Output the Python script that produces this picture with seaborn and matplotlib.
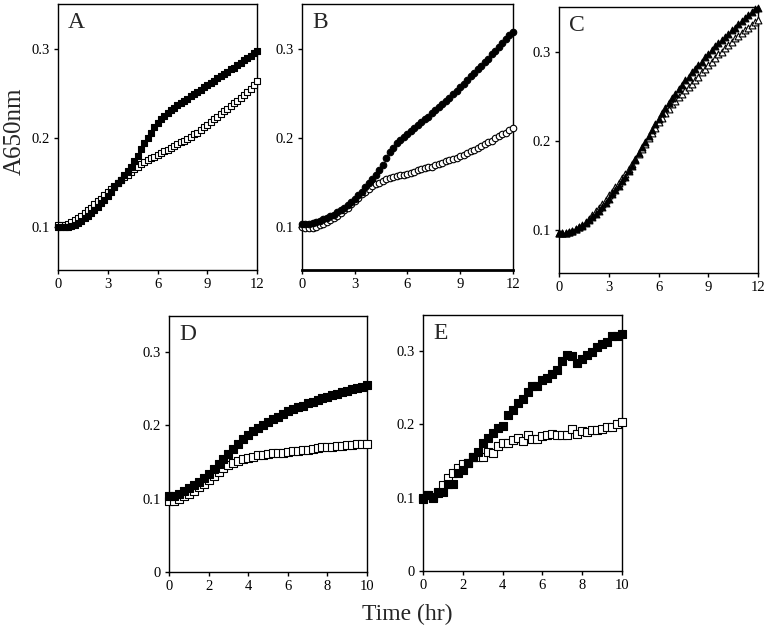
import numpy as np
import pandas as pd
import seaborn as sns
import matplotlib.pyplot as plt

# time grids (hr)
t12 = np.round(np.arange(0, 12.01, 0.2), 2)
t10 = np.round(np.arange(0, 10.01, 0.25), 2)

# panel A (squares)
a_filled = [0.100, 0.100, 0.100, 0.100, 0.101, 0.103, 0.105, 0.107, 0.110, 0.113, 0.116,
            0.119, 0.123, 0.127, 0.131, 0.135, 0.140, 0.145, 0.149, 0.153, 0.158,
            0.163, 0.168, 0.174, 0.180, 0.188, 0.194, 0.200, 0.206, 0.212, 0.217,
            0.221, 0.225, 0.228, 0.231, 0.234, 0.237, 0.239, 0.242, 0.244, 0.247,
            0.249, 0.252, 0.254, 0.257, 0.259, 0.262, 0.264, 0.267, 0.269, 0.272,
            0.274, 0.277, 0.279, 0.282, 0.284, 0.287, 0.290, 0.292, 0.295, 0.298]
a_open = [0.103, 0.103, 0.103, 0.104, 0.106, 0.108, 0.110, 0.113, 0.116, 0.119, 0.122,
          0.126, 0.129, 0.132, 0.136, 0.139, 0.143, 0.146, 0.150, 0.153, 0.156,
          0.159, 0.162, 0.165, 0.168, 0.171, 0.173, 0.175, 0.177, 0.179, 0.181,
          0.183, 0.185, 0.187, 0.189, 0.191, 0.193, 0.195, 0.197, 0.199, 0.201,
          0.204, 0.206, 0.209, 0.212, 0.215, 0.218, 0.221, 0.224, 0.227, 0.230,
          0.233, 0.236, 0.239, 0.242, 0.245, 0.248, 0.251, 0.255, 0.259, 0.264]

# panel B (circles)
b_filled = [0.104, 0.104, 0.104, 0.105, 0.106, 0.107, 0.109, 0.110, 0.112, 0.114, 0.117,
            0.119, 0.122, 0.125, 0.128, 0.132, 0.136, 0.140, 0.145, 0.149, 0.154,
            0.159, 0.164, 0.170, 0.177, 0.184, 0.189, 0.194, 0.198, 0.201, 0.204,
            0.208, 0.211, 0.215, 0.218, 0.221, 0.224, 0.228, 0.231, 0.235, 0.238,
            0.242, 0.245, 0.249, 0.253, 0.257, 0.261, 0.265, 0.269, 0.273, 0.277,
            0.281, 0.285, 0.289, 0.294, 0.298, 0.302, 0.306, 0.311, 0.315, 0.319]
b_open = [0.100, 0.099, 0.099, 0.099, 0.100, 0.102, 0.104, 0.106, 0.108, 0.110, 0.113,
          0.116, 0.119, 0.122, 0.126, 0.129, 0.133, 0.137, 0.140, 0.143, 0.146,
          0.148, 0.150, 0.152, 0.154, 0.155, 0.156, 0.157, 0.158, 0.159, 0.160,
          0.161, 0.162, 0.164, 0.165, 0.166, 0.167, 0.168, 0.170, 0.171, 0.172,
          0.174, 0.175, 0.176, 0.178, 0.180, 0.181, 0.183, 0.185, 0.187, 0.189,
          0.191, 0.193, 0.195, 0.197, 0.200, 0.202, 0.204, 0.206, 0.209, 0.211]

# panel C (triangles)
c_filled = [0.097, 0.097, 0.097, 0.098, 0.099, 0.101, 0.103, 0.105, 0.108, 0.111, 0.115,
            0.118, 0.122, 0.126, 0.130, 0.135, 0.140, 0.145, 0.150, 0.155, 0.160,
            0.166, 0.172, 0.179, 0.186, 0.193, 0.199, 0.206, 0.212, 0.219, 0.225,
            0.231, 0.237, 0.242, 0.248, 0.253, 0.258, 0.263, 0.268, 0.272, 0.277,
            0.281, 0.285, 0.289, 0.294, 0.298, 0.302, 0.306, 0.310, 0.313, 0.317,
            0.320, 0.324, 0.327, 0.331, 0.334, 0.338, 0.341, 0.345, 0.348, 0.349]
c_open = [0.097, 0.097, 0.097, 0.098, 0.099, 0.101, 0.103, 0.106, 0.109, 0.113, 0.117,
          0.121, 0.125, 0.129, 0.134, 0.139, 0.143, 0.148, 0.153, 0.158, 0.163,
          0.169, 0.174, 0.180, 0.185, 0.191, 0.197, 0.203, 0.209, 0.215, 0.221,
          0.226, 0.231, 0.236, 0.241, 0.245, 0.249, 0.253, 0.257, 0.261, 0.264,
          0.268, 0.272, 0.277, 0.281, 0.285, 0.289, 0.293, 0.297, 0.300, 0.304,
          0.308, 0.311, 0.315, 0.318, 0.321, 0.324, 0.327, 0.330, 0.333, 0.336]

# panel D (squares, 0-10 hr)
d_filled = [0.104, 0.104, 0.106, 0.110, 0.114, 0.118, 0.123, 0.128, 0.134, 0.141, 0.148,
            0.154, 0.161, 0.168, 0.175, 0.181, 0.187, 0.192, 0.197, 0.201, 0.205,
            0.209, 0.212, 0.216, 0.219, 0.222, 0.225, 0.227, 0.230, 0.232, 0.235,
            0.237, 0.239, 0.241, 0.243, 0.245, 0.247, 0.249, 0.251, 0.253, 0.255]
d_open = [0.0965, 0.097, 0.099, 0.103, 0.107, 0.111, 0.116, 0.120, 0.125, 0.131, 0.137,
          0.142, 0.146, 0.149, 0.152, 0.154, 0.156, 0.157, 0.159, 0.160, 0.161,
          0.162, 0.162, 0.163, 0.164, 0.165, 0.165, 0.166, 0.167, 0.168, 0.169,
          0.170, 0.171, 0.171, 0.172, 0.172, 0.173, 0.173, 0.174, 0.174, 0.175]

# panel E (squares, 0-10 hr)
e_filled = [0.098, 0.104, 0.099, 0.106, 0.108, 0.118, 0.118, 0.134, 0.138, 0.148, 0.156,
            0.163, 0.174, 0.181, 0.188, 0.195, 0.198, 0.213, 0.220, 0.229, 0.235,
            0.244, 0.252, 0.253, 0.261, 0.263, 0.269, 0.274, 0.286, 0.295, 0.293,
            0.284, 0.289, 0.295, 0.299, 0.305, 0.310, 0.312, 0.321, 0.320, 0.323]
e_open = [0.100, 0.104, 0.101, 0.108, 0.117, 0.127, 0.134, 0.141, 0.146, 0.148, 0.156,
          0.155, 0.156, 0.162, 0.161, 0.170, 0.174, 0.175, 0.179, 0.182, 0.178,
          0.185, 0.180, 0.180, 0.184, 0.185, 0.187, 0.186, 0.186, 0.185, 0.194,
          0.187, 0.191, 0.190, 0.192, 0.193, 0.194, 0.196, 0.197, 0.200, 0.203]

sns.set_style("ticks")
plt.rcParams['font.family'] = ['Liberation Serif', 'DejaVu Serif']

fig = plt.figure(figsize=(7.69, 6.3), dpi=100)

def panel(rect, t, filled, opened, marker, ms, letter, xticks, yticks, ylim, ylabels):
    ax = fig.add_axes(rect)
    df = pd.DataFrame({'t': t, 'f': filled, 'o': opened})
    sns.scatterplot(data=df, x='t', y='o', marker=marker, s=ms, color='white',
                    edgecolor='black', linewidth=0.8, ax=ax, zorder=3, clip_on=False)
    sns.scatterplot(data=df, x='t', y='f', marker=marker, s=ms, color='black',
                    edgecolor='black', linewidth=0.8, ax=ax, zorder=4, clip_on=False)
    ax.set_xlim(xticks[0], xticks[-1])
    ax.set_ylim(*ylim)
    ax.set_xticks(xticks)
    ax.set_yticks(yticks)
    ax.set_yticklabels(ylabels)
    ax.set_xlabel('')
    ax.set_ylabel('')
    for sp in ax.spines.values():
        sp.set_visible(True)
        sp.set_color('black')
        sp.set_linewidth(1.0)
    ax.tick_params(direction='out', length=3, width=1, labelsize=10.5, pad=3,
                   colors='black')
    ax.text(0.05, 0.97, letter, transform=ax.transAxes, fontsize=17,
            va='top', ha='left')
    return ax

yt3 = [0.1, 0.2, 0.3]
yt4 = [0, 0.1, 0.2, 0.3]
panel([0.0754, 0.5714, 0.259, 0.422], t12, a_filled, a_open, 's', 22, 'A',
      [0, 3, 6, 9, 12], yt3, (0.052, 0.35), ['0.1', '0.2', '0.3'])
axb = panel([0.3927, 0.5714, 0.274, 0.422], t12, b_filled, b_open, 'o', 22, 'B',
            [0, 3, 6, 9, 12], yt3, (0.052, 0.35), ['0.1', '0.2', '0.3'])
axb.spines['bottom'].set_linewidth(2.0)
panel([0.727, 0.5667, 0.259, 0.422], t12, c_filled, c_open, '^', 24, 'C',
      [0, 3, 6, 9, 12], yt3, (0.052, 0.35), ['0.1', '0.2', '0.3'])
panel([0.2198, 0.0921, 0.2575, 0.406], t10, d_filled, d_open, 's', 30, 'D',
      [0, 2, 4, 6, 8, 10], yt4, (0, 0.349), ['0', '0.1', '0.2', '0.3'])
panel([0.55, 0.0937, 0.259, 0.406], t10, e_filled, e_open, 's', 34, 'E',
      [0, 2, 4, 6, 8, 10], yt4, (0, 0.349), ['0', '0.1', '0.2', '0.3'])

fig.text(15 / 769, 1 - 131 / 630, 'A650nm', rotation=90, fontsize=18,
         ha='center', va='center')
fig.text(407 / 769, 1 - 614 / 630, 'Time (hr)', fontsize=17,
         ha='center', va='center')

fig.savefig('out.png', dpi=100)
